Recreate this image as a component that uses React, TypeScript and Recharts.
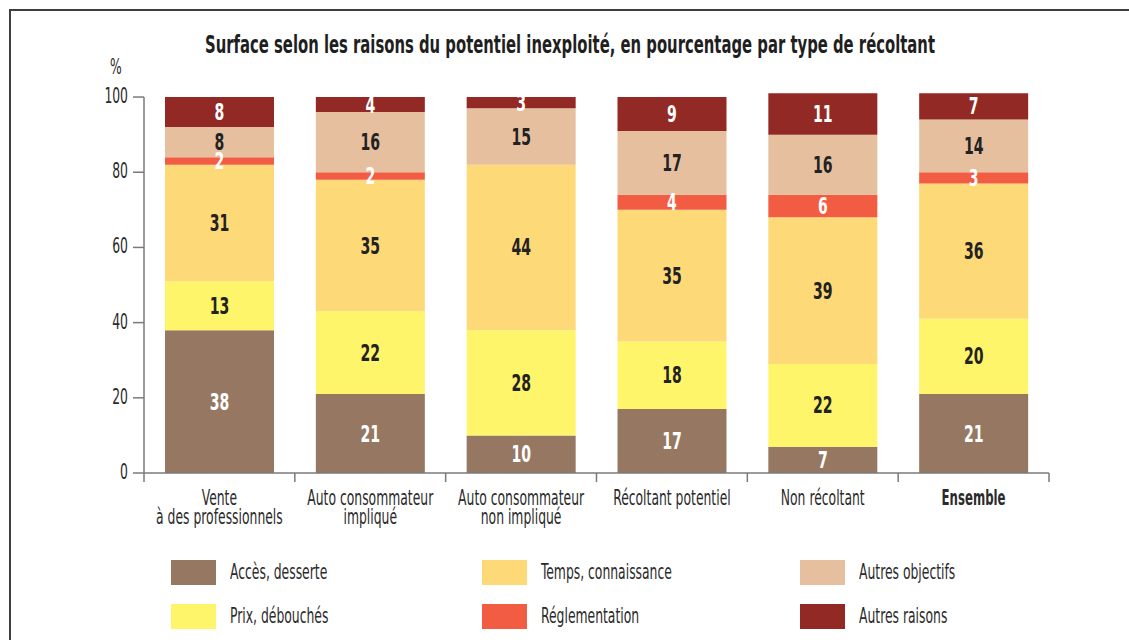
import React from 'react';
import { BarChart, Bar, XAxis, YAxis, LabelList, ReferenceLine } from 'recharts';

const categories = [
  'Vente\nà des professionnels',
  'Auto consommateur\nimpliqué',
  'Auto consommateur\nnon impliqué',
  'Récoltant potentiel',
  'Non récoltant',
  'Ensemble',
];
const acces = [38, 21, 10, 17, 7, 21];
const prix = [13, 22, 28, 18, 22, 20];
const temps = [31, 35, 44, 35, 39, 36];
const reglementation = [2, 2, 0, 4, 6, 3];
const autresObjectifs = [8, 16, 15, 17, 16, 14];
const autresRaisons = [8, 4, 3, 9, 11, 7];

const yTicks = [0, 20, 40, 60, 80, 100];
const seriesKeys = ['acces', 'prix', 'temps', 'reglementation', 'autresObjectifs', 'autresRaisons'];
const seriesNames = [
  'Accès, desserte',
  'Prix, débouchés',
  'Temps, connaissance',
  'Réglementation',
  'Autres objectifs',
  'Autres raisons',
];
const seriesValues = [acces, prix, temps, reglementation, autresObjectifs, autresRaisons];
const seriesColors = ['#967862', '#FFF56B', '#FDD978', '#F25C43', '#E6BF9E', '#922924'];
const labelColors = ['#ffffff', '#222222', '#222222', '#ffffff', '#222222', '#ffffff'];

const title = 'Surface selon les raisons du potentiel inexploité, en pourcentage par type de récoltant';
const unitLabel = '%';

const data = categories.map((c, i) => {
  const row: any = { category: c };
  seriesKeys.forEach((k, j) => {
    row[k] = seriesValues[j][i];
  });
  return row;
});

const FONT = "'Liberation Sans Narrow', 'DejaVu Sans Condensed', 'Liberation Sans', sans-serif";
const TEXT = '#2b2b2b';
const AXIS = '#7a7a7a';
const SX = 0.655;

const XTick = (props: any) => {
  const { x, y, payload, index, visibleTicksCount } = props;
  const off = payload && payload.offset != null ? payload.offset : 0;
  const lines = String(payload.value).split('\n');
  const bold = payload.value === 'Ensemble';
  return (
    <g>
      <line x1={x - off} x2={x - off} y1={y} y2={y + 9} stroke={AXIS} strokeWidth={1.5} />
      {index === visibleTicksCount - 1 && (
        <line x1={x + off} x2={x + off} y1={y} y2={y + 9} stroke={AXIS} strokeWidth={1.5} />
      )}
      {lines.map((l, i) => (
        <text
          key={i}
          transform={`translate(${x},${y + 32 + i * 19}) scale(${bold ? SX * 0.95 : SX},1)`}
          textAnchor="middle"
          fontFamily={FONT}
          fontSize={21}
          fontWeight={bold ? 700 : 400}
          fill={TEXT}
        >
          {l}
        </text>
      ))}
    </g>
  );
};

const YTick = (props: any) => {
  const { x, y, payload } = props;
  return (
    <text
      transform={`translate(${x},${y + 6}) scale(${SX},1)`}
      textAnchor="end"
      fontFamily={FONT}
      fontSize={21}
      fill={TEXT}
    >
      {payload.value}
    </text>
  );
};

const makeLabel = (color: string) => (props: any) => {
  const vb = props.viewBox || {};
  const x = props.x ?? vb.x;
  const y = props.y ?? vb.y;
  const width = props.width ?? vb.width;
  const height = props.height ?? vb.height;
  const value = props.value;
  if (!value) return null;
  return (
    <text
      transform={`translate(${x + width / 2},${y + height / 2 + 8}) scale(0.68,1)`}
      textAnchor="middle"
      fontFamily={FONT}
      fontSize={23}
      fontWeight={700}
      fill={color}
    >
      {value}
    </text>
  );
};

export default function App() {
  return (
    <div
      style={{
        position: 'absolute',
        left: 0,
        top: 0,
        width: 1129,
        height: 640,
        overflow: 'hidden',
        background: '#ffffff',
        fontFamily: FONT,
      }}
    >
      <div
        style={{
          position: 'absolute',
          left: 9,
          top: 9,
          right: -5,
          bottom: -5,
          borderTop: '2px solid #3f3f3f',
          borderLeft: '2px solid #3f3f3f',
        }}
      />
      <div style={{ position: 'absolute', left: 0, top: 0 }}>
        <BarChart
          width={1129}
          height={640}
          data={data}
          margin={{ top: 82, right: 80, bottom: 107, left: 84 }}
          barSize={109}
        >
          <XAxis
            dataKey="category"
            height={60}
            interval={0}
            tickSize={0}
            tickMargin={0}
            axisLine={{ stroke: AXIS, strokeWidth: 1.5 }}
            tickLine={false}
            tick={<XTick />}
          />
          <YAxis
            width={60}
            type="number"
            domain={[0, 104]}
            allowDataOverflow
            ticks={yTicks}
            interval={0}
            axisLine={false}
            tickSize={11}
            tickMargin={5}
            tickLine={{ stroke: AXIS, strokeWidth: 1.5 }}
            tick={<YTick />}
          />
          {seriesKeys.map((k, j) => (
            <Bar
              key={k}
              dataKey={k}
              name={seriesNames[j]}
              stackId="s"
              fill={seriesColors[j]}
              isAnimationActive={false}
            >
              <LabelList dataKey={k} content={makeLabel(labelColors[j])} />
            </Bar>
          ))}
          <ReferenceLine
            segment={[
              { x: categories[0], y: 0 },
              { x: categories[0], y: 100 },
            ]}
            position="start"
            stroke={AXIS}
            strokeWidth={1.5}
            ifOverflow="visible"
          />
        </BarChart>
      </div>
      <svg
        width={1129}
        height={640}
        style={{ position: 'absolute', left: 0, top: 0, pointerEvents: 'none' }}
      >
        <text
          x={570}
          y={53}
          textAnchor="middle"
          textLength={730}
          lengthAdjust="spacingAndGlyphs"
          fontFamily={FONT}
          fontSize={25}
          fontWeight={700}
          fill="#1f1f1f"
        >
          {title}
        </text>
        <text
          transform={`translate(116,74) scale(${SX},1)`}
          textAnchor="middle"
          fontFamily={FONT}
          fontSize={21}
          fill={TEXT}
        >
          {unitLabel}
        </text>
      </svg>
      <div
        style={{
          position: 'absolute',
          left: 171,
          top: 560,
          display: 'grid',
          gridTemplateColumns: '311px 318px 220px',
          gridTemplateRows: '25px 25px',
          gridAutoFlow: 'column',
          rowGap: 19,
        }}
      >
        {seriesNames.map((n, j) => (
          <div key={n} style={{ display: 'flex', alignItems: 'center', height: 25 }}>
            <div style={{ width: 45, height: 25, background: seriesColors[j], flex: '0 0 auto' }} />
            <span
              style={{
                marginLeft: 14,
                display: 'inline-block',
                fontSize: 21,
                color: TEXT,
                transform: `scaleX(${SX})`,
                transformOrigin: 'left center',
                whiteSpace: 'nowrap',
                lineHeight: '25px',
              }}
            >
              {n}
            </span>
          </div>
        ))}
      </div>
    </div>
  );
}
